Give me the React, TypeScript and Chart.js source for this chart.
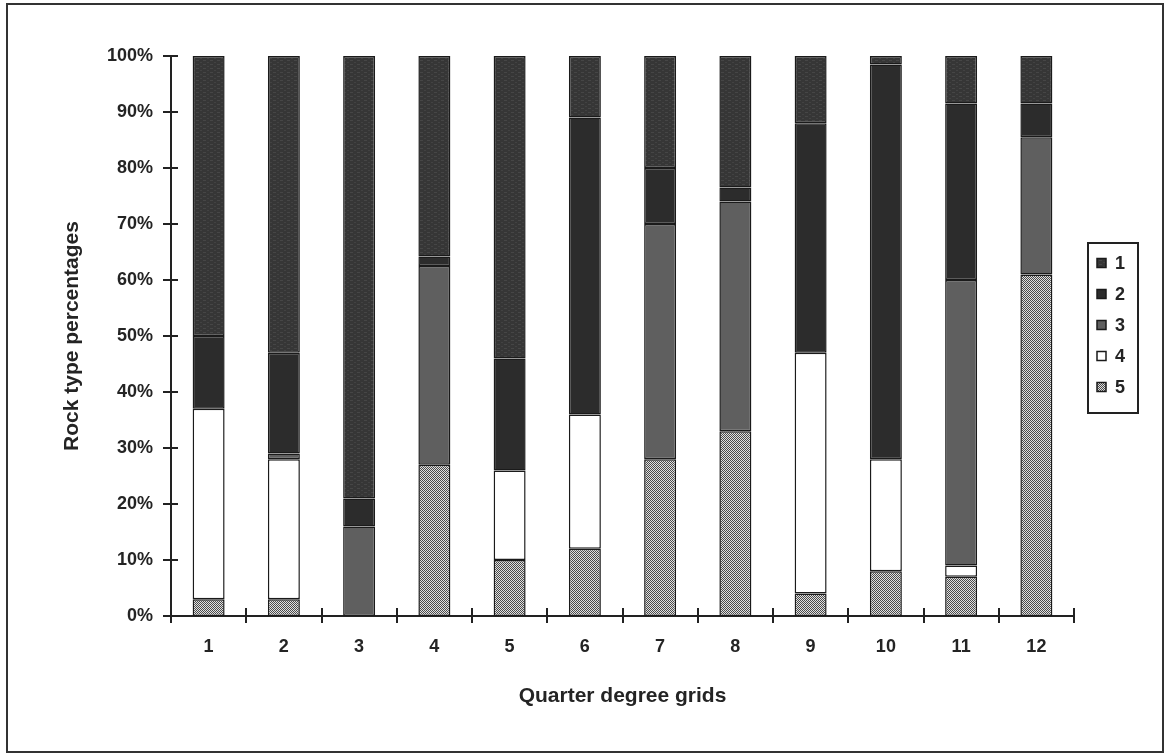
import React, { useEffect, useRef } from "react";
import { Chart, registerables } from "chart.js";

Chart.register(...registerables);

const categories = ["1", "2", "3", "4", "5", "6", "7", "8", "9", "10", "11", "12"];
const seriesLabels = ["1", "2", "3", "4", "5"];
// values in % (bottom to top stack order: 5, 4, 3, 2, 1)
const rock5 = [3, 3, 0, 27, 10, 12, 28, 33, 4, 8, 7, 61];
const rock4 = [34, 25, 0, 0, 16, 24, 0, 0, 43, 20, 2, 0];
const rock3 = [0, 1, 16, 35.5, 0, 0, 42, 41, 0, 0, 51, 24.5];
const rock2 = [13, 18, 5, 1.7, 20, 53, 10, 2.5, 41, 70.5, 31.5, 6];
const rock1 = [50, 53, 79, 35.8, 54, 11, 20, 23.5, 12, 1.5, 8.5, 8.5];
const yTickValues = [0, 10, 20, 30, 40, 50, 60, 70, 80, 90, 100];

const FONT = "'Liberation Sans', Arial, sans-serif";
const TEXT = "#242424";
const AXIS = "#222222";

function makePattern(draw: (c: CanvasRenderingContext2D) => void, w: number, h: number) {
  const cv = document.createElement("canvas");
  cv.width = w;
  cv.height = h;
  const c = cv.getContext("2d") as CanvasRenderingContext2D;
  draw(c);
  const ctx = document.createElement("canvas").getContext("2d") as CanvasRenderingContext2D;
  return ctx.createPattern(cv, "repeat") as CanvasPattern;
}

export default function App() {
  const ref = useRef<HTMLCanvasElement | null>(null);

  useEffect(() => {
    if (!ref.current) return;

    const fill1 = makePattern((c) => {
      c.fillStyle = "#363636";
      c.fillRect(0, 0, 7, 4);
      c.fillStyle = "#464646";
      c.fillRect(0, 0, 3, 1);
      c.fillStyle = "#424242";
      c.fillRect(4, 2, 2, 1);
    }, 7, 4);
    const fill2 = "#2c2c2c";
    const fill3 = "#5f5f5f";
    const fill4 = "#ffffff";
    const fill5 = makePattern((c) => {
      c.fillStyle = "#e0e0e0";
      c.fillRect(0, 0, 2, 2);
      c.fillStyle = "#4a4a4a";
      c.fillRect(0, 0, 1, 1);
      c.fillRect(1, 1, 1, 1);
    }, 2, 2);

    const fills = [fill1, fill2, fill3, fill4, fill5];

    const mk = (label: string, data: number[], fill: any) => ({
      label,
      data,
      backgroundColor: fill,
      borderColor: "#1a1a1a",
      borderWidth: 1.5,
      borderSkipped: false as const,
      barPercentage: 0.425,
      categoryPercentage: 1,
    });

    const crossTicks = {
      id: "crossTicks",
      afterDraw(chart: any) {
        const ctx = chart.ctx;
        const xs = chart.scales.x;
        const ys = chart.scales.y;
        const ca = chart.chartArea;
        ctx.save();
        ctx.strokeStyle = AXIS;
        ctx.lineWidth = 2;
        ctx.beginPath();
        yTickValues.forEach((v) => {
          const py = Math.round(ys.getPixelForValue(v));
          ctx.moveTo(ca.left - 8, py);
          ctx.lineTo(ca.left + 7, py);
        });
        const n = categories.length;
        for (let i = 0; i <= n; i++) {
          const px = Math.round(xs.getPixelForValue(i - 0.5));
          ctx.moveTo(px, ca.bottom - 8);
          ctx.lineTo(px, ca.bottom + 7);
        }
        ctx.stroke();
        // outer frame
        ctx.strokeStyle = "#333333";
        ctx.lineWidth = 2;
        ctx.strokeRect(7, 4, chart.width - 10, chart.height - 7);
        ctx.restore();
      },
    };

    const legendPlugin = {
      id: "customLegend",
      afterDraw(chart: any) {
        const ctx = chart.ctx;
        const ca = chart.chartArea;
        const x0 = ca.right + 14;
        const y0 = 243;
        const w = 50;
        const h = 170;
        ctx.save();
        ctx.strokeStyle = AXIS;
        ctx.lineWidth = 2;
        ctx.fillStyle = "#ffffff";
        ctx.fillRect(x0, y0, w, h);
        ctx.strokeRect(x0, y0, w, h);
        const items = chart.data.datasets.slice().reverse();
        items.forEach((ds: any, i: number) => {
          const cy = y0 + 20 + i * 31;
          ctx.fillStyle = ds.backgroundColor;
          ctx.fillRect(x0 + 9, cy - 4.5, 9, 9);
          ctx.strokeStyle = "#1a1a1a";
          ctx.lineWidth = 1.5;
          ctx.strokeRect(x0 + 9, cy - 4.5, 9, 9);
          ctx.fillStyle = TEXT;
          ctx.font = `bold 18px ${FONT}`;
          ctx.textAlign = "left";
          ctx.textBaseline = "middle";
          ctx.fillText(ds.label, x0 + 27, cy + 1);
        });
        ctx.restore();
      },
    };

    const chart = new Chart(ref.current, {
      type: "bar",
      data: {
        labels: categories,
        datasets: [
          mk(seriesLabels[0], rock1, fills[0]),
          mk(seriesLabels[1], rock2, fills[1]),
          mk(seriesLabels[2], rock3, fills[2]),
          mk(seriesLabels[3], rock4, fills[3]),
          mk(seriesLabels[4], rock5, fills[4]),
        ].reverse(),
      },
      options: {
        responsive: false,
        animation: false,
        layout: { padding: { left: 58, top: 56, right: 92, bottom: 46 } },
        plugins: {
          legend: { display: false },
          tooltip: { enabled: false },
        },
        scales: {
          x: {
            stacked: true,
            grid: { display: false, drawTicks: false, tickLength: 0 },
            border: { display: true, color: AXIS, width: 2 },
            ticks: {
              color: TEXT,
              padding: 20,
              font: { family: FONT, size: 18, weight: "bold" },
            },
            title: {
              display: true,
              text: "Quarter degree grids",
              color: TEXT,
              padding: { top: 0, bottom: 0 },
              font: { family: FONT, size: 21, weight: "bold" },
            },
            afterFit(scale: any) {
              scale.height = 93;
            },
          },
          y: {
            stacked: true,
            min: 0,
            max: 100,
            grid: { display: false, drawTicks: false, tickLength: 0 },
            border: { display: true, color: AXIS, width: 2 },
            ticks: {
              stepSize: 10,
              color: TEXT,
              padding: 18,
              font: { family: FONT, size: 18, weight: "bold" },
              callback: (v: any) => v + "%",
            },
            title: {
              display: true,
              text: "Rock type percentages",
              color: TEXT,
              padding: { top: 2, bottom: 0 },
              font: { family: FONT, size: 21, weight: "bold" },
            },
            afterFit(scale: any) {
              scale.width = 113;
            },
          },
        },
      },
      plugins: [crossTicks, legendPlugin],
    });

    return () => chart.destroy();
  }, []);

  return (
    <div style={{ position: "absolute", left: 0, top: 0, width: 1166, height: 755, background: "#ffffff" }}>
      <canvas ref={ref} width={1166} height={755} style={{ display: "block" }} />
    </div>
  );
}
